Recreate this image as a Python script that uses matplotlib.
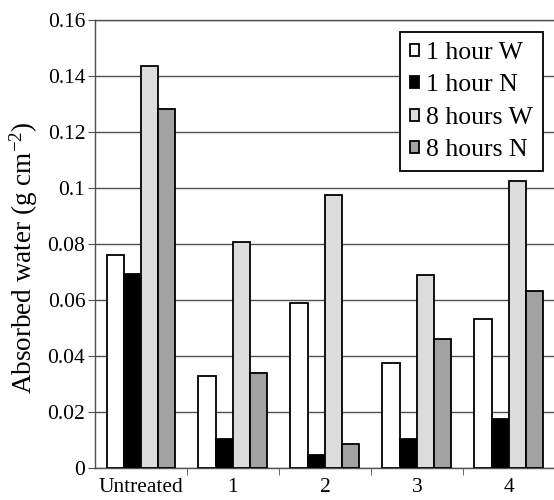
import matplotlib
matplotlib.use("Agg")
import matplotlib.pyplot as plt
import numpy as np

categories = ["Untreated", "1", "2", "3", "4"]
series_names = ["1 hour W", "1 hour N", "8 hours W", "8 hours N"]
one_hour_w = [0.0761, 0.0329, 0.0588, 0.0376, 0.0532]
one_hour_n = [0.0693, 0.0104, 0.0046, 0.0104, 0.0174]
eight_hours_w = [0.1437, 0.0808, 0.0975, 0.0689, 0.1026]
eight_hours_n = [0.1282, 0.0338, 0.0085, 0.0461, 0.0633]
yticks = [0, 0.02, 0.04, 0.06, 0.08, 0.1, 0.12, 0.14, 0.16]
ytick_labels = ["0", "0.02", "0.04", "0.06", "0.08", "0.1", "0.12", "0.14", "0.16"]

colors = ["#ffffff", "#000000", "#dcdcdc", "#a2a2a2"]
plt.rcParams['font.family'] = ['Liberation Serif', 'DejaVu Serif']
plt.rcParams['mathtext.fontset'] = 'custom'
plt.rcParams['mathtext.rm'] = 'Liberation Serif'
plt.rcParams['mathtext.it'] = 'Liberation Serif:italic'

fig = plt.figure(figsize=(5.54, 5.0), dpi=100)
ax = fig.add_axes([0.1715, 0.064, 0.83, 0.896])

x = np.arange(len(categories))
w = 0.1875
data = [one_hour_w, one_hour_n, eight_hours_w, eight_hours_n]
for i, (vals, name, c) in enumerate(zip(data, series_names, colors)):
    ax.bar(x + (i - 1.5) * w, vals, width=w, color=c, edgecolor="black",
           linewidth=1.3, label=name, zorder=3)

ax.set_xlim(-0.5, 4.5)
ax.set_ylim(0, 0.16)
ax.set_yticks(yticks)
ax.set_yticklabels(ytick_labels, fontsize=15.5)
ax.yaxis.grid(True, color="#505050", linewidth=1.0, zorder=0)
ax.set_axisbelow(True)

ax.set_xticks(x)
ax.set_xticklabels(categories, fontsize=15.5)
ax.tick_params(axis="x", which="major", length=0, pad=7)
ax.set_xticks(np.arange(0.5, 4.5, 1.0), minor=True)
ax.tick_params(axis="x", which="minor", length=5, color="#505050", direction="out")
ax.tick_params(axis="y", length=5, color="#505050", direction="out", pad=2)

ax.spines["right"].set_visible(False)
for s in ["left", "bottom", "top"]:
    ax.spines[s].set_color("#505050")
    ax.spines[s].set_linewidth(1.0)

ax.set_ylabel("Absorbed water (g cm$^{\\mathrm{-2}}$)", fontsize=19.5)
ax.yaxis.set_label_coords(-0.12, 0.469)

leg = ax.legend(loc="upper right", bbox_to_anchor=(0.974, 0.973), borderaxespad=0,
                fontsize=18.5, frameon=True, fancybox=False, edgecolor="black",
                handlelength=0.35, handleheight=0.35, handletextpad=0.3,
                labelspacing=0.41, borderpad=0.38)
leg.get_frame().set_linewidth(1.3)
leg.get_frame().set_alpha(1)

fig.savefig("out.png", dpi=100)
